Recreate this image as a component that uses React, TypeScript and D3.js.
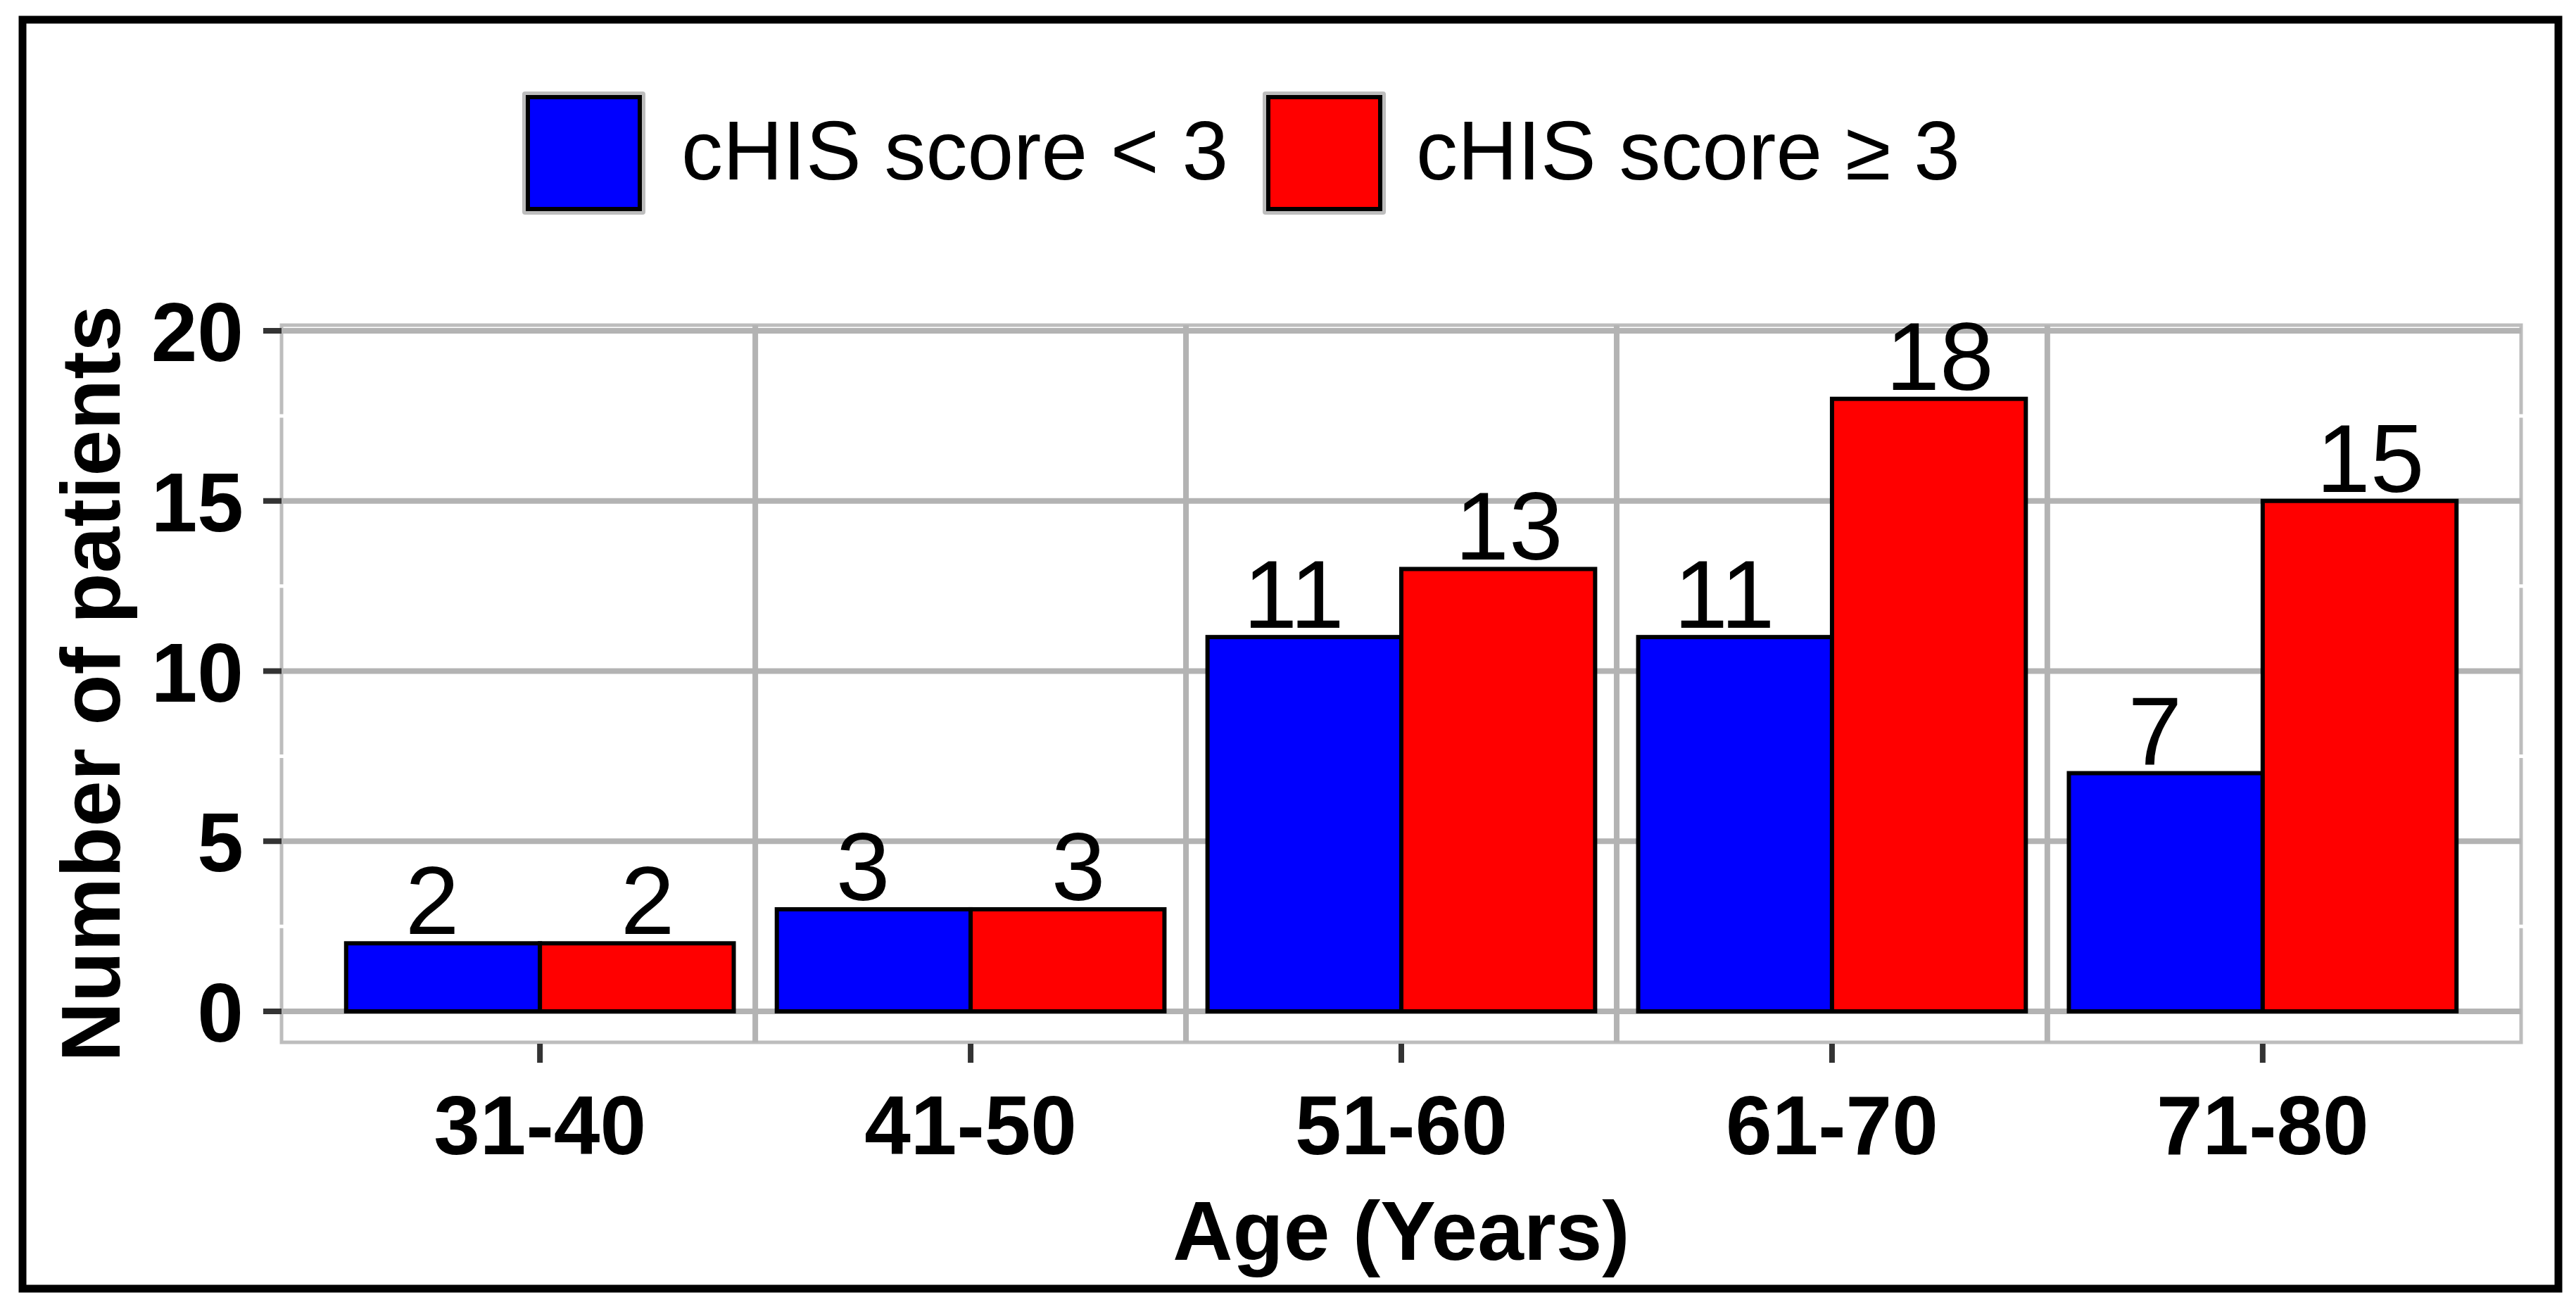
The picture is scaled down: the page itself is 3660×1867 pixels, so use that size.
import React from "react";
import * as d3 from "d3";

const categories = ["31-40", "41-50", "51-60", "61-70", "71-80"];
const seriesNames = ["cHIS score < 3", "cHIS score \u2265 3"];
const seriesLow = [2, 3, 11, 11, 7];
const seriesHigh = [2, 3, 13, 18, 15];
const seriesColors = ["#0000FF", "#FF0000"];
const yTicks = [0, 5, 10, 15, 20];
const yMinorTicks = [2.5, 7.5, 12.5, 17.5];

const W = 3660;
const H = 1867;
const panel = { left: 400, right: 3582, top: 462, bottom: 1481 };
const FONT = "'Liberation Sans', Arial, Helvetica, sans-serif";

export default function App() {
  const x = d3
    .scaleBand<string>()
    .domain(categories)
    .range([panel.left, panel.right])
    .paddingInner(0)
    .paddingOuter(0.1);
  const bw = x.bandwidth();
  const xBar = d3
    .scaleBand<number>()
    .domain([0, 1])
    .range([0.05 * bw, 0.95 * bw])
    .padding(0);
  const xLab = d3.scaleBand<number>().domain([0, 1]).range([0, bw]).padding(0);
  const y = d3.scaleLinear().domain([0, 20]).range([1437, 470]);

  const series = [seriesLow, seriesHigh];
  const gridColor = "#b3b3b3";

  return (
    <svg
      width={W}
      height={H}
      style={{ position: "absolute", left: 0, top: 0, background: "#fff" }}
      fontFamily={FONT}
    >
      <rect x={0} y={0} width={W} height={H} fill="#fff" />
      {/* outer border */}
      <rect x={32} y={28} width={3603} height={1803} fill="none" stroke="#000" strokeWidth={11} />

      {/* legend */}
      {seriesNames.map((name, i) => {
        const kx = [742, 1794][i];
        const tx = [968, 2012][i];
        return (
          <g key={name}>
            <rect x={kx} y={130} width={175} height={175} fill="#bdbdbd" rx={4} />
            <rect x={kx + 8} y={138} width={159} height={159} fill={seriesColors[i]} stroke="#000" strokeWidth={6} />
            <text x={tx} y={255} fontSize={118} fill="#000">
              {name}
            </text>
          </g>
        );
      })}

      {/* panel border */}
      <rect
        x={panel.left}
        y={panel.top}
        width={panel.right - panel.left}
        height={panel.bottom - panel.top}
        fill="none"
        stroke="#bdbdbd"
        strokeWidth={5}
      />
      {/* minor white lines */}
      {yMinorTicks.map((t) => (
        <line key={"m" + t} x1={panel.left - 4} x2={panel.right + 4} y1={y(t)} y2={y(t)} stroke="#fff" strokeWidth={5} />
      ))}
      {/* vertical grid */}
      {categories.slice(1).map((c) => (
        <line key={"v" + c} x1={x(c)!} x2={x(c)!} y1={panel.top} y2={panel.bottom} stroke={gridColor} strokeWidth={8} />
      ))}
      {/* horizontal grid */}
      {yTicks.map((t) => (
        <line key={"h" + t} x1={panel.left} x2={panel.right} y1={y(t)} y2={y(t)} stroke={gridColor} strokeWidth={8} />
      ))}

      {/* bars */}
      {categories.map((c, ci) =>
        series.map((s, si) => (
          <rect
            key={c + si}
            x={x(c)! + xBar(si)!}
            y={y(s[ci])}
            width={xBar.bandwidth()}
            height={y(0) - y(s[ci])}
            fill={seriesColors[si]}
            stroke="#000"
            strokeWidth={6}
          />
        ))
      )}

      {/* value labels */}
      {categories.map((c, ci) =>
        series.map((s, si) => (
          <text
            key={"l" + c + si}
            x={x(c)! + xLab(si)! + xLab.bandwidth() / 2}
            y={y(s[ci]) - 13}
            fontSize={138}
            textAnchor="middle"
            fill="#000"
          >
            {s[ci]}
          </text>
        ))
      )}

      {/* y axis ticks and labels */}
      {yTicks.map((t) => (
        <g key={"yt" + t}>
          <line x1={374} x2={400} y1={y(t)} y2={y(t)} stroke="#333" strokeWidth={8} />
          <text x={346} y={y(t) + 43} fontSize={118} fontWeight="bold" textAnchor="end" fill="#000">
            {t}
          </text>
        </g>
      ))}

      {/* x axis ticks and labels */}
      {categories.map((c) => {
        const cx = x(c)! + bw / 2;
        return (
          <g key={"xt" + c}>
            <line x1={cx} x2={cx} y1={panel.bottom + 2} y2={1510} stroke="#333" strokeWidth={8} />
            <text x={cx} y={1640} fontSize={118} fontWeight="bold" textAnchor="middle" fill="#000">
              {c}
            </text>
          </g>
        );
      })}

      {/* axis titles */}
      <text
        x={(panel.left + panel.right) / 2}
        y={1790}
        fontSize={118}
        fontWeight="bold"
        textAnchor="middle"
        fill="#000"
      >
        Age (Years)
      </text>
      <text
        transform={`translate(170, ${(panel.top + panel.bottom) / 2}) rotate(-90)`}
        fontSize={118}
        fontWeight="bold"
        textAnchor="middle"
        fill="#000"
      >
        Number of patients
      </text>
    </svg>
  );
}
